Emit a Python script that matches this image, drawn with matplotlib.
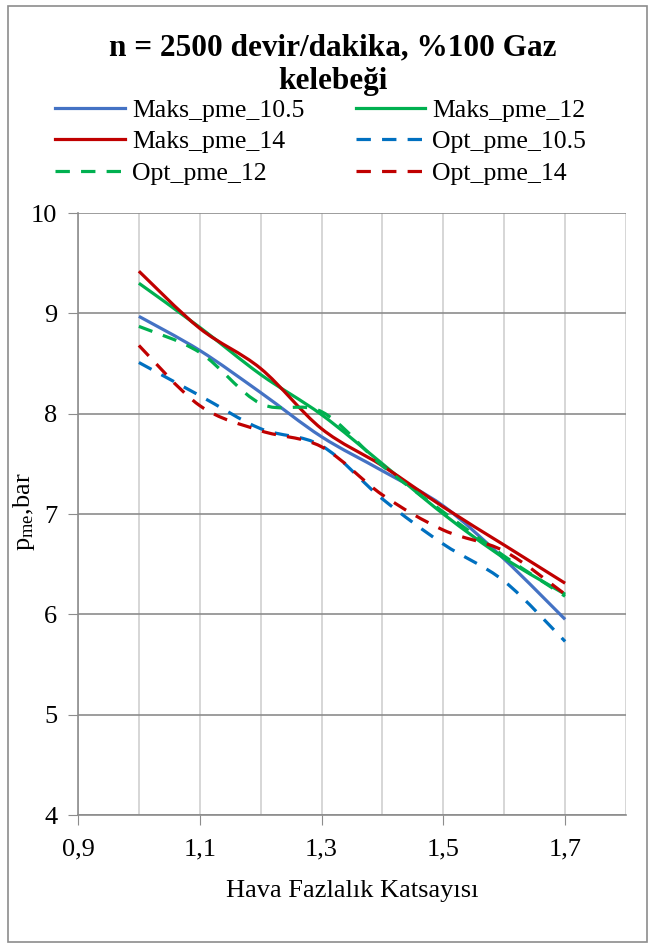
import numpy as np
import matplotlib
matplotlib.use("Agg")
import matplotlib.pyplot as plt
from matplotlib.path import Path
from matplotlib.patches import PathPatch, Rectangle
from matplotlib.lines import Line2D

plt.rcParams['font.family'] = ['Liberation Serif', 'DejaVu Serif']
plt.rcParams['mathtext.fontset'] = 'custom'
plt.rcParams['mathtext.rm'] = 'Liberation Serif'
plt.rcParams['mathtext.it'] = 'Liberation Serif:italic'

# hava fazlalik katsayisi (lambda)
lam = [1.0, 1.1, 1.2, 1.3, 1.4, 1.5, 1.6, 1.7]

maks_105 = [8.97, 8.63, 8.21, 7.77, 7.43, 7.08, 6.55, 5.95]
maks_12 = [9.30, 8.86, 8.39, 7.99, 7.50, 7.00, 6.56, 6.20]
maks_14 = [9.42, 8.85, 8.45, 7.85, 7.48, 7.07, 6.69, 6.31]
opt_105 = [8.51, 8.18, 7.85, 7.68, 7.15, 6.70, 6.33, 5.73]
opt_12 = [8.87, 8.61, 8.10, 8.02, 7.48, 7.02, 6.58, 6.18]
opt_14 = [8.68, 8.08, 7.83, 7.67, 7.19, 6.84, 6.63, 6.20]

series = [
    ("Maks_pme_10.5", maks_105, '#4472C4', '-'),
    ("Maks_pme_12", maks_12, '#00B050', '-'),
    ("Maks_pme_14", maks_14, '#C00000', '-'),
    ("Opt_pme_10.5", opt_105, '#0070C0', (0, (4.5, 3.5))),
    ("Opt_pme_12", opt_12, '#00B050', (0, (4.5, 3.5))),
    ("Opt_pme_14", opt_14, '#C00000', (0, (4.5, 3.5))),
]


def smooth_path(x, y):
    # excel-like smoothed line: catmull-rom as cubic bezier segments
    pts = np.column_stack([x, y])
    n = len(pts)
    verts = [pts[0]]
    codes = [Path.MOVETO]
    for i in range(n - 1):
        p0 = pts[max(i - 1, 0)]
        p1 = pts[i]
        p2 = pts[i + 1]
        p3 = pts[min(i + 2, n - 1)]
        verts += [p1 + (p2 - p0) / 6., p2 - (p3 - p1) / 6., p2]
        codes += [Path.CURVE4] * 3
    return Path(verts, codes)


fig = plt.figure(figsize=(6.53, 9.46), dpi=100)
ax = fig.add_axes([78 / 653., 131 / 946., 548 / 653., 602 / 946.])

handles = {}
for label, vals, col, ls in series:
    patch = PathPatch(smooth_path(lam, vals), fill=False, edgecolor=col,
                      lw=2.3, linestyle=ls, capstyle='butt', zorder=3)
    ax.add_patch(patch)
    handles[label] = Line2D([], [], color=col, lw=2.3, linestyle=ls)

ax.set_xlim(0.9, 1.8)
ax.set_ylim(4, 10)
ax.set_xticks(np.arange(0.9, 1.75, 0.2))
ax.set_xticklabels(['0,9', '1,1', '1,3', '1,5', '1,7'])
ax.set_xticks(np.arange(0.9, 1.85, 0.1), minor=True)
ax.set_yticks(range(4, 11))

ax.grid(True, axis='x', which='both', color='#D0D0D0', lw=1.2)
ax.grid(True, axis='y', which='major', color='#8C8C8C', lw=1.2)
ax.set_axisbelow(True)
ax.tick_params(axis='x', which='minor', length=0)
ax.tick_params(axis='both', which='major', length=7, color='#8C8C8C',
               labelsize=19, direction='out')
ax.tick_params(axis='x', pad=10)
ax.tick_params(axis='y', pad=8)
for s in ['top', 'right']:
    ax.spines[s].set_visible(False)
for s in ['left', 'bottom']:
    ax.spines[s].set_color('#8C8C8C')
    ax.spines[s].set_linewidth(1.2)

ax.set_xlabel("Hava Fazlalık Katsayısı", fontsize=19, labelpad=14)
ax.set_ylabel("p$_{\\mathrm{me}}$,bar", fontsize=19)
ax.yaxis.set_label_coords(-0.075, 0.503)

fig.text(333 / 653., 1 - 65 / 946., "n = 2500 devir/dakika, %100 Gaz\nkelebeği",
         ha='center', va='center', fontsize=22.5, fontweight='bold',
         linespacing=1.2)

order = ["Maks_pme_10.5", "Maks_pme_14", "Opt_pme_12",
         "Maks_pme_12", "Opt_pme_10.5", "Opt_pme_14"]
fig.legend([handles[k] for k in order], order, ncol=2, frameon=False,
           fontsize=18.5, handlelength=2.72, handletextpad=0.27,
           columnspacing=2.0, labelspacing=0.35, borderpad=0, borderaxespad=0,
           loc='center left', bbox_to_anchor=(55 / 653., 1 - 142 / 946.))

fig.add_artist(Rectangle((8 / 653., 4 / 946.), 639 / 653., 936 / 946.,
                         transform=fig.transFigure, fill=False,
                         edgecolor='#8C8C8C', lw=1.2))

fig.savefig("out.png", dpi=100)
